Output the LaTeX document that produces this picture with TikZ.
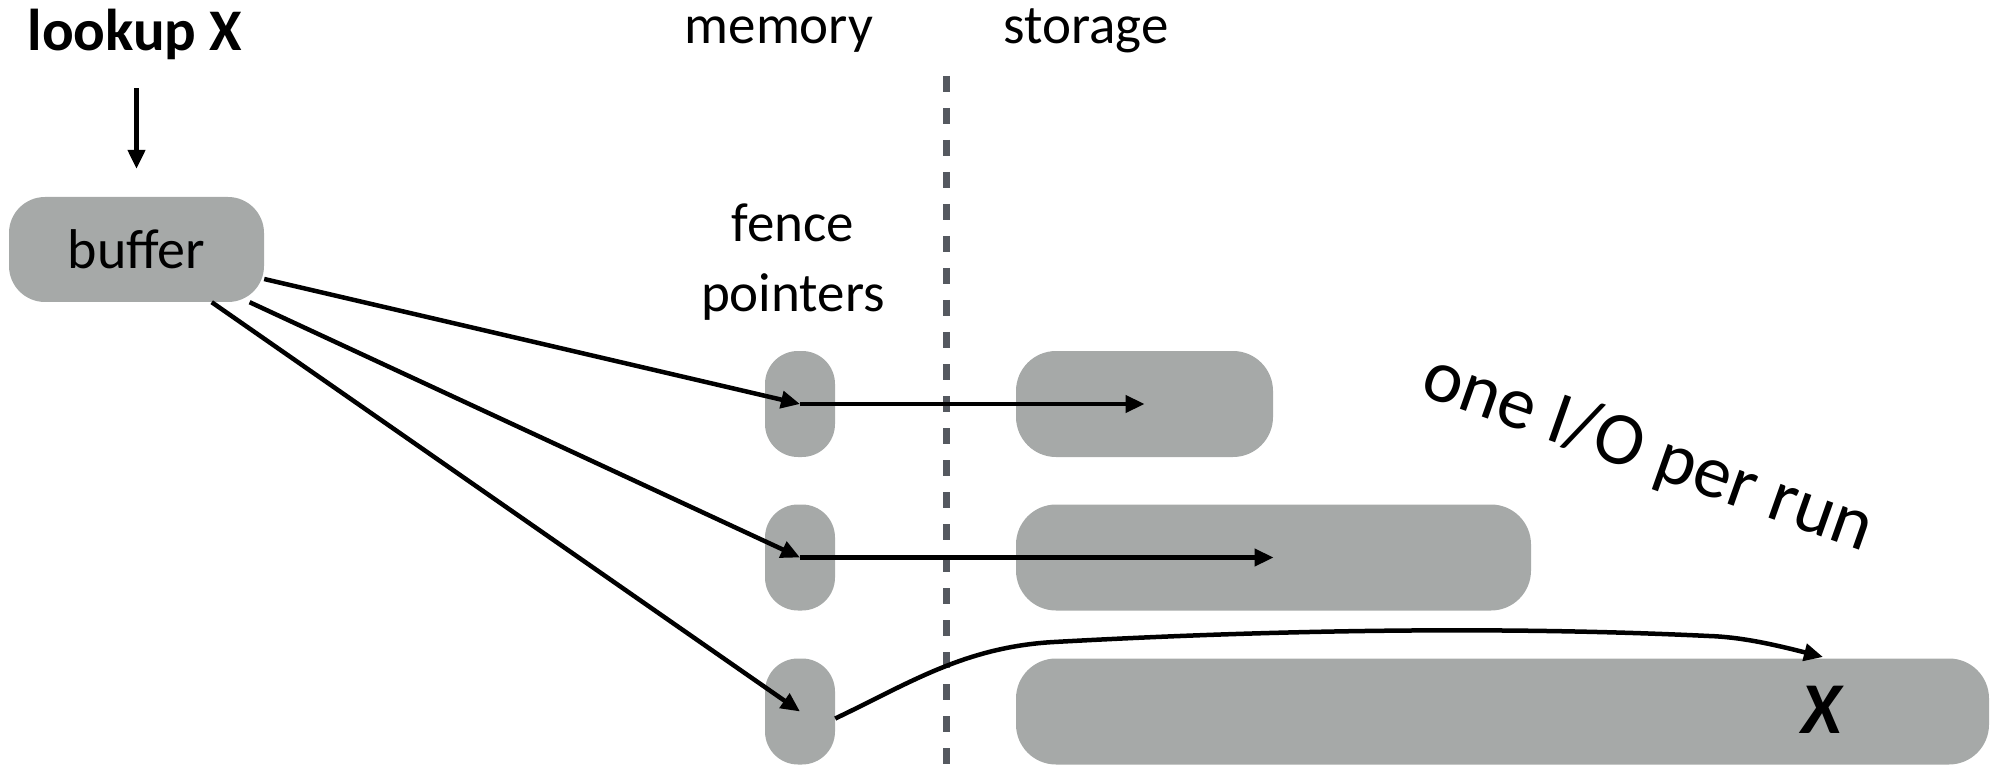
\documentclass[tikz,border=0pt]{standalone}
\usepackage{fontspec}
\setmainfont{Carlito}
\usetikzlibrary{arrows.meta}
\definecolor{boxgray}{RGB}{166,169,168}
\definecolor{dashgray}{RGB}{85,89,96}
\begin{document}
\begin{tikzpicture}[x=1pt,y=-1pt,
  box/.style={fill=boxgray, draw=none, inner sep=0pt},
  pill/.style={box, minimum width=70pt, minimum height=106pt, rounded corners=33pt},
  runbox/.style={box, minimum height=106pt, rounded corners=40pt},
  arr/.style={line width=4.5pt, -{Triangle[length=19pt,width=17pt]}},
  lbl/.style={inner sep=0pt, font=\fontsize{55}{67}\selectfont},
]
\useasboundingbox (0,0) rectangle (1992,767);

% divider
\coordinate (dtop) at (946,76);
\coordinate (dbot) at (946,767);
\draw[dashgray, line width=7pt, dash pattern=on 16pt off 16pt] (dtop) -- (dbot);

% labels
\node[inner sep=0pt, anchor=base, font=\bfseries\fontsize{59}{70}\selectfont] (lookup) at (135,51) {lookup X};
\node[lbl, anchor=base] (mem) at (779,44) {memory};
\node[lbl, anchor=base] (sto) at (1086,44) {storage};
\node[inner sep=0pt, align=center, font=\fontsize{55}{70}\selectfont] (fp) at (793,262) {fence\\pointers};

% buffer
\node[box, rounded corners=36pt, minimum width=255pt, minimum height=105pt, font=\fontsize{56}{67}\selectfont] (buffer) at (136.5,249.5) {buffer};

% fence pointers
\node[pill] (p1) at (800,404) {};
\node[pill] (p2) at (800,557.5) {};
\node[pill] (p3) at (800,711.5) {};

% runs
\node[runbox, minimum width=257pt] (r1) at (1144.5,404) {};
\node[runbox, minimum width=515pt] (r2) at (1273.5,557.5) {};
\node[runbox, minimum width=973pt] (r3) at (1502.5,711.5) {};

\node[inner sep=0pt, anchor=base, font=\bfseries\itshape\fontsize{73}{80}\selectfont] (xk) at (1822,733) {X};

\node[inner sep=0pt, anchor=base west, rotate=-19.5, font=\fontsize{75}{84}\selectfont] (io) at (1418,394) {one I/O per run};

% arrows
\draw[arr, shorten <=28pt, shorten >=28pt] (buffer.north |- lookup.south) -- (buffer.north);
\draw[arr] (buffer) -- (p1.center);
\draw[arr] (buffer) -- (p2.center);
\draw[arr] (buffer) -- (p3.center);
\draw[arr] (p1.center) -- (r1.center);
\draw[arr] (p2.center) -- (r2.center);
\coordinate (xt) at (1823,657);
\draw[arr] ([yshift=-7pt]p3.east) .. controls (908,684) and (964,647) .. (1054,642)
  .. controls (1270,630) and (1500,626) .. (1709,636)
  .. controls (1740,637) and (1772,644) .. (xt);
\end{tikzpicture}
\end{document}
